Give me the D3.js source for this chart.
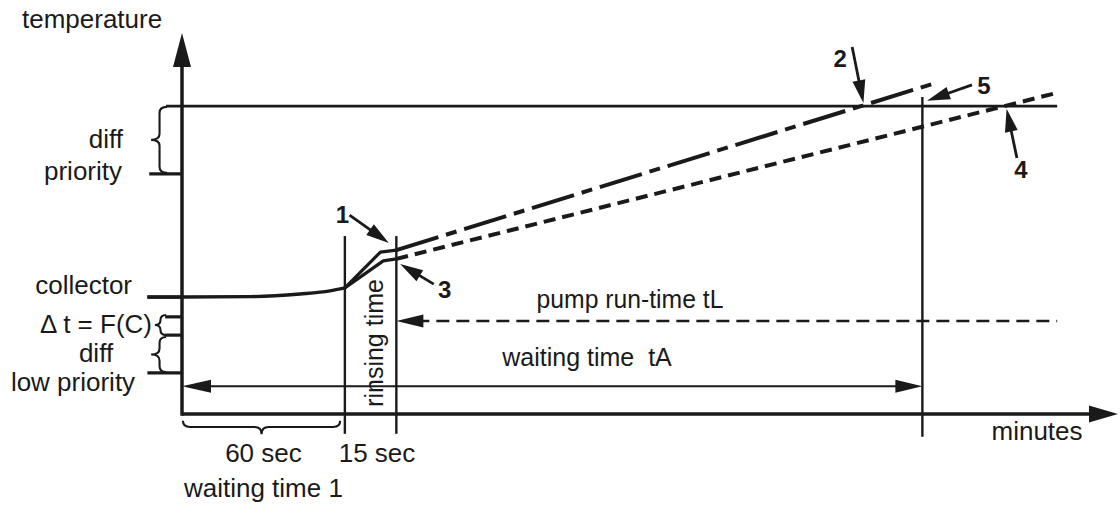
<!DOCTYPE html>
<html><head><meta charset="utf-8">
<script src="https://cdn.jsdelivr.net/npm/d3@7"></script>
<style>
body{margin:0;background:#fff}
svg{display:block}
text{font-family:"Liberation Sans",Arial,Helvetica,sans-serif;fill:#1a1a1a;white-space:pre}
</style>
</head><body>
<svg id="c" width="1120" height="507"></svg>
<script>
// ---------------- data (x: abstract time units, y: temperature units) ----------------
const axisTitles = ["temperature", "minutes"];
const tickLevels = [80.8, 63.0, 30.7, 25.5, 20.7, 10.8];      // top limit, priority, collector, Δt top, Δt bottom, low priority
const tickStarts = [-1.7, -3.5, -3.7, -1.8, -1.8, -3.7];
const tickEnds   = [93.5, 0, 0, 0, 0, 0];
const levelLabels = ["diff", "priority", "collector", "Δ t = F(C)", "diff", "low priority"];

const collectorX = [-3.7, 0, 7.3, 12.6, 15.8, 17.4];
const collectorY = [30.7, 30.7, 30.8, 31.5, 32.3, 33.1];

const upperRiseX = [17.4, 21.2, 22.9];
const upperRiseY = [33.1, 42.5, 43.0];
const upperTrendX = [22.9, 80.8];
const upperTrendY = [43.0, 87.1];

const lowerRiseX = [17.4, 21.5, 22.9];
const lowerRiseY = [33.1, 40.2, 40.7];
const lowerTrendX = [22.9, 93.5];
const lowerTrendY = [40.7, 84.3];

const markerX    = [17.4, 22.9, 79.1];   // rinse start, rinse end, end of waiting time tA
const markerTop  = [46.7, 46.7, 83.2];
const markerBot  = [-5.2, -5.2, -6.0];

const pumpLevel = 24.4, pumpFrom = 22.9, pumpTo = 93.5;
const waitLevel = 7.3, waitFrom = 0, waitTo = 79.1;

const calloutLabels = ["1", "2", "3", "4", "5"];
const calloutFromX = [17.9, 71.6, 26.9, 89.2, 84.4];
const calloutFromY = [52.2, 96.3, 34.1, 67.2, 86.4];
const calloutToX   = [22.1, 72.8, 23.3, 88.1, 79.6];
const calloutToY   = [44.9, 81.6, 39.4, 80.1, 82.2];

const braceY0 = [80.6, 26.0, 20.2];
const braceY1 = [63.3, 20.7, 11.0];
const bottomBraceX = [0.1, 16.9];

const timeLabels = ["60 sec", "15 sec", "waiting time 1", "rinsing time", "pump run-time tL", "waiting time\u00a0 tA"];

// ---------------- scales ----------------
const x = d3.scaleLinear().domain([0, 100]).range([182, 1118]);
const y = d3.scaleLinear().domain([0, 100]).range([414, 33]);

const svg = d3.select("#c");
const ink = "#1a1a1a";
const SX = 1.04, FS = 25;

function label(t, px, py, anchor, opts = {}) {
  const fs = opts.size || FS;
  return svg.append("text")
    .attr("transform", `translate(${px},${py}) scale(${opts.sx || SX},1)` + (opts.rot ? ` rotate(${opts.rot})` : ""))
    .attr("text-anchor", anchor || "start")
    .attr("font-size", fs)
    .attr("font-weight", opts.bold ? "bold" : "normal")
    .text(t);
}

function arrowHead(x1, y1, x2, y2, len, half) {
  const a = Math.atan2(y2 - y1, x2 - x1);
  const bx = x2 - len * Math.cos(a), by = y2 - len * Math.sin(a);
  const nx = -Math.sin(a) * half, ny = Math.cos(a) * half;
  svg.append("path")
    .attr("d", `M${x2},${y2}L${bx + nx},${by + ny}L${bx - nx},${by - ny}Z`)
    .attr("fill", ink);
}

const line = d3.line().x(d => x(d[0])).y(d => y(d[1]));

// ---------------- axes ----------------
svg.append("line").attr("x1", x(0)).attr("x2", x(100) - 20).attr("y1", y(0)).attr("y2", y(0))
  .attr("stroke", ink).attr("stroke-width", 3.5);
arrowHead(x(0), y(0), x(100), y(0), 29, 8.5);
svg.append("line").attr("x1", x(0)).attr("x2", x(0)).attr("y1", y(0) + 1.7).attr("y2", y(100) + 20)
  .attr("stroke", ink).attr("stroke-width", 3.5);
arrowHead(x(0), y(0), x(0), y(100), 34, 9);

label(axisTitles[0], 22, 28, "start");
label(axisTitles[1], 1037, 440, "middle");

// ---------------- level ticks ----------------
tickLevels.forEach((v, i) => {
  svg.append("line").attr("x1", x(tickStarts[i])).attr("x2", x(tickEnds[i]))
    .attr("y1", y(v)).attr("y2", y(v))
    .attr("stroke", ink).attr("stroke-width", i === 0 ? 2.6 : 3.2);
});

label(levelLabels[0], 123, 148, "end");
label(levelLabels[1], 122, 180, "end");
label(levelLabels[2], 132, 294, "end");
label(levelLabels[3], 152, 333, "end");
label(levelLabels[4], 96, 362, "middle");
label(levelLabels[5], 73, 391, "middle");

// ---------------- braces ----------------
function vBrace(y0v, y1v, tipX, spineX, armX) {
  const a = y(y0v), b = y(y1v), m = (a + b) / 2, r = Math.min(6, (b - a) / 4);
  const p = `M${armX},${a}Q${spineX},${a} ${spineX},${a + r}L${spineX},${m - r}Q${spineX},${m} ${tipX},${m}` +
            `Q${spineX},${m} ${spineX},${m + r}L${spineX},${b - r}Q${spineX},${b} ${armX},${b}`;
  svg.append("path").attr("d", p).attr("fill", "none").attr("stroke", ink).attr("stroke-width", 2.1);
}
vBrace(braceY0[0], braceY1[0], x(-3.3), x(-2.4), x(-1.6));
vBrace(braceY0[1], braceY1[1], x(-2.9), x(-2.3), x(-1.7));
vBrace(braceY0[2], braceY1[2], x(-3.3), x(-2.4), x(-1.7));

(function () {
  const a = x(bottomBraceX[0]), b = x(bottomBraceX[1]), m = (a + b) / 2;
  const armY = y(-1.8), spY = y(-3.4), tipY = y(-5.3), r = 7;
  const p = `M${a},${armY}Q${a},${spY} ${a + r},${spY}L${m - r},${spY}Q${m},${spY} ${m},${tipY}` +
            `Q${m},${spY} ${m + r},${spY}L${b - r},${spY}Q${b},${spY} ${b},${armY}`;
  svg.append("path").attr("d", p).attr("fill", "none").attr("stroke", ink).attr("stroke-width", 2.1);
})();

// ---------------- vertical markers ----------------
markerX.forEach((v, i) => {
  svg.append("line").attr("x1", x(v)).attr("x2", x(v)).attr("y1", y(markerTop[i])).attr("y2", y(markerBot[i]))
    .attr("stroke", ink).attr("stroke-width", 2.4);
});

// ---------------- temperature curves ----------------
svg.append("path").datum(collectorX.map((v, i) => [v, collectorY[i]]))
  .attr("d", line.curve(d3.curveMonotoneX)).attr("fill", "none").attr("stroke", ink).attr("stroke-width", 3.4);
line.curve(d3.curveLinear);
svg.append("path").datum(upperRiseX.map((v, i) => [v, upperRiseY[i]]))
  .attr("d", line).attr("fill", "none").attr("stroke", ink).attr("stroke-width", 3.2).attr("stroke-linejoin", "round");
svg.append("path").datum(lowerRiseX.map((v, i) => [v, lowerRiseY[i]]))
  .attr("d", line).attr("fill", "none").attr("stroke", ink).attr("stroke-width", 3.2).attr("stroke-linejoin", "round");
svg.append("path").datum(upperTrendX.map((v, i) => [v, upperTrendY[i]]))
  .attr("d", line).attr("fill", "none").attr("stroke", ink).attr("stroke-width", 4)
  .attr("stroke-dasharray", "44,8,11,8");
svg.append("path").datum(lowerTrendX.map((v, i) => [v, lowerTrendY[i]]))
  .attr("d", line).attr("fill", "none").attr("stroke", ink).attr("stroke-width", 4)
  .attr("stroke-dasharray", "12,7");

// ---------------- pump run-time & waiting time arrows ----------------
svg.append("line").attr("x1", x(pumpFrom) + 20).attr("x2", x(pumpTo)).attr("y1", y(pumpLevel)).attr("y2", y(pumpLevel))
  .attr("stroke", ink).attr("stroke-width", 2.6).attr("stroke-dasharray", "13,7");
arrowHead(x(pumpTo), y(pumpLevel), x(pumpFrom), y(pumpLevel), 27, 6.5);

svg.append("line").attr("x1", x(waitFrom) + 20).attr("x2", x(waitTo) - 20).attr("y1", y(waitLevel)).attr("y2", y(waitLevel))
  .attr("stroke", ink).attr("stroke-width", 2);
arrowHead(x(waitTo), y(waitLevel), x(waitFrom), y(waitLevel), 29, 6.5);
arrowHead(x(waitFrom), y(waitLevel), x(waitTo), y(waitLevel), 27, 6.5);

// ---------------- time labels ----------------
label(timeLabels[0], (x(0) + x(17.4)) / 2, 462, "middle");
label(timeLabels[1], 377, 462, "middle");
label(timeLabels[2], (x(0) + x(17.4)) / 2, 497, "middle");
label(timeLabels[3], 383, 343, "middle", { rot: -90, sx: 1 });
label(timeLabels[4], 630, 308, "middle", { sx: 0.99 });
label(timeLabels[5], 587, 366, "middle", { sx: 1.0 });

// ---------------- numbered callouts ----------------
const labelOff = [[-7, 8], [-12, 20], [11, 14], [4, 20], [12, 9]];
calloutLabels.forEach((t, i) => {
  const x1 = x(calloutFromX[i]), y1 = y(calloutFromY[i]), x2 = x(calloutToX[i]), y2 = y(calloutToY[i]);
  const a = Math.atan2(y2 - y1, x2 - x1);
  svg.append("line").attr("x1", x1).attr("y1", y1).attr("x2", x2 - 18 * Math.cos(a)).attr("y2", y2 - 18 * Math.sin(a))
    .attr("stroke", ink).attr("stroke-width", 2.8);
  arrowHead(x1, y1, x2, y2, 23, 6.5);
  label(t, x1 + labelOff[i][0], y1 + labelOff[i][1], "middle", { bold: true, size: 24, sx: 1.0 });
});
</script>
</body></html>
